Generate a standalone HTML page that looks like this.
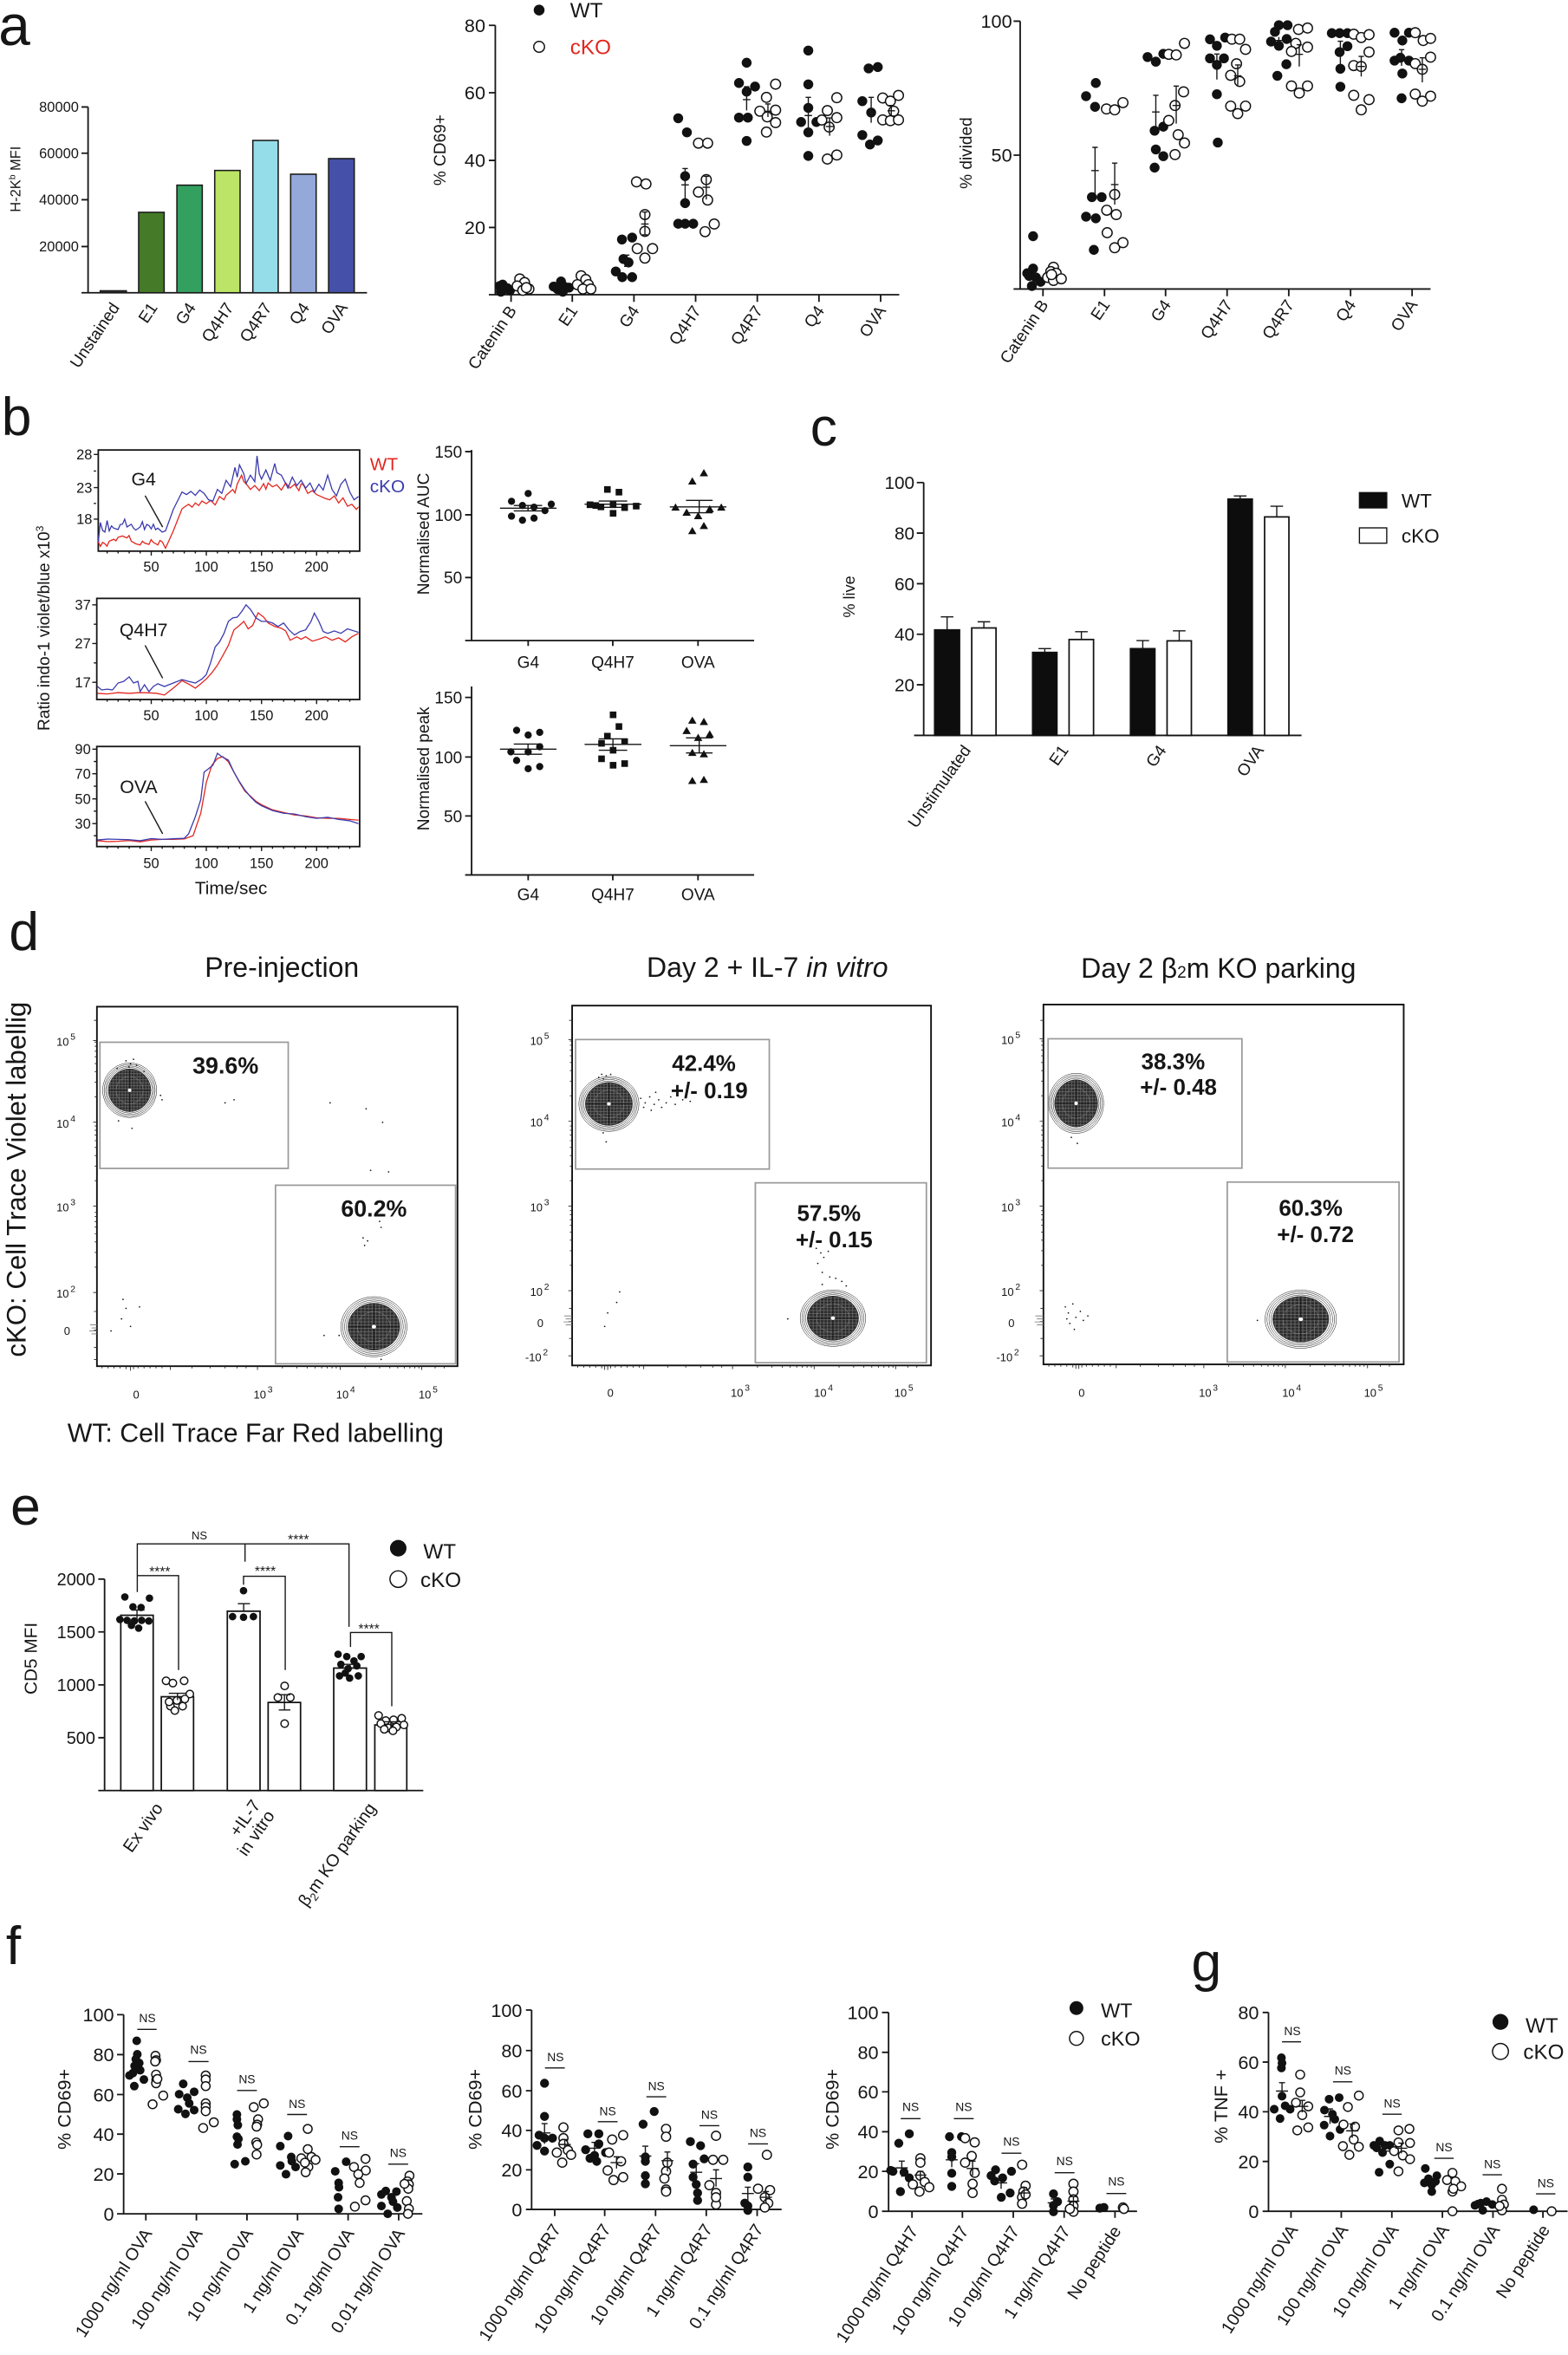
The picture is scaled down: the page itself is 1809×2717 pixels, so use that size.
<!DOCTYPE html>
<html><head><meta charset="utf-8"><style>
html,body{margin:0;padding:0;background:#fff}
svg{display:block}
text{font-family:"Liberation Sans",Arial,sans-serif;fill:#161616}
.ax{stroke:#161616;stroke-width:1.05;fill:none}
.th{stroke:#161616;stroke-width:0.8;fill:none}
.f{fill:#111}
.o{fill:#fff;stroke:#111;stroke-width:0.85}
.g{fill:none;stroke:#9a9a9a;stroke-width:1}
.red{stroke:#e3261f;fill:none;stroke-width:0.75}
.blu{stroke:#3a3aae;fill:none;stroke-width:0.75}
</style></head><body>
<svg width="1809" height="2717" viewBox="0 0 1045 1569.5" preserveAspectRatio="none" xmlns="http://www.w3.org/2000/svg">
<defs>
<pattern id="mesh" width="2.2" height="2.2" patternUnits="userSpaceOnUse">
<rect width="2.2" height="2.2" fill="#2c2c2c"/><path d="M0,1.1H2.2M1.1,0V2.2" stroke="#6e6e6e" stroke-width="0.4"/>
</pattern>
<g id="blob">
<circle r="20" fill="#fff" stroke="#111" stroke-width="0.5" vector-effect="non-scaling-stroke"/>
<circle r="18.9" fill="none" stroke="#111" stroke-width="0.5" vector-effect="non-scaling-stroke"/>
<circle r="17.8" fill="none" stroke="#111" stroke-width="0.5" vector-effect="non-scaling-stroke"/>
<circle r="16.7" fill="none" stroke="#111" stroke-width="0.5" vector-effect="non-scaling-stroke"/>
<circle r="15.7" fill="url(#mesh)" stroke="#222" stroke-width="0.5" vector-effect="non-scaling-stroke"/>
<circle r="10" fill="none" stroke="#999" stroke-width="0.4" vector-effect="non-scaling-stroke"/>
<path d="M-15,0H15M0,-15V15" stroke="#1a1a1a" stroke-width="0.9" vector-effect="non-scaling-stroke"/>
<circle r="1.3" fill="#fff"/>
</g>
<path id="ydec" d="M-2.5,0h2.5M-1.5,-16.9h1.5M-1.5,-26.7h1.5M-1.5,-33.7h1.5M-1.5,-39.1h1.5M-1.5,-43.6h1.5M-1.5,-47.3h1.5M-1.5,-50.6h1.5M-1.5,-53.4h1.5" stroke="#222" stroke-width="0.5" fill="none"/>
<path id="xdec" d="M0,0v2.5M16.6,0v1.5M26.3,0v1.5M33.1,0v1.5M38.4,0v1.5M42.8,0v1.5M46.5,0v1.5M49.7,0v1.5M52.5,0v1.5" stroke="#222" stroke-width="0.5" fill="none"/>
</defs>

<!-- ================= PANEL a ================= -->
<text x="-1" y="30" font-size="38">a</text>
<path class="ax" d="M58.7,71.3V195.1M54.3,195.1H244.6M54.3,71.3H58.7M54.3,102.1H58.7M54.3,133.1H58.7M54.3,164.3H58.7"/>
<g font-size="9.5" text-anchor="end">
<text x="52.5" y="74.6">80000</text><text x="52.5" y="105.4">60000</text><text x="52.5" y="136.4">40000</text><text x="52.5" y="167.6">20000</text>
</g>
<text transform="translate(13.5,119.4) rotate(-90)" font-size="9.5" text-anchor="middle">H-2K<tspan font-size="6" dy="-3.5">b</tspan><tspan dy="3.5"> MFI</tspan></text>
<g stroke="#1a1a1a" stroke-width="0.9">
<rect x="66.8" y="193.8" width="17.4" height="1.3" fill="#333"/>
<rect x="92.4" y="141.5" width="17" height="53.6" fill="#447a28"/>
<rect x="117.9" y="123.4" width="16.9" height="71.7" fill="#33a060"/>
<rect x="143.1" y="113.6" width="16.9" height="81.5" fill="#bce466"/>
<rect x="168.5" y="93.6" width="16.9" height="101.5" fill="#95dde8"/>
<rect x="193.7" y="116.1" width="17" height="79" fill="#94a8da"/>
<rect x="219" y="105.7" width="17.1" height="89.4" fill="#4550a8"/>
</g>
<g font-size="11" text-anchor="end">
<text transform="translate(80,205) rotate(-56)">Unstained</text>
<text transform="translate(105.4,205) rotate(-56)">E1</text>
<text transform="translate(130.9,205) rotate(-56)">G4</text>
<text transform="translate(156.1,205) rotate(-56)">Q4H7</text>
<text transform="translate(181.5,205) rotate(-56)">Q4R7</text>
<text transform="translate(206.7,205) rotate(-56)">Q4</text>
<text transform="translate(232.1,205) rotate(-56)">OVA</text>
</g>

<!-- CD69 scatter -->
<path class="ax" d="M330.1,16.9V196.4M325.8,196.4H599.3M325.8,16.9H330.1M325.8,61.8H330.1M325.8,106.9H330.1M325.8,151.6H330.1M340.6,196.4v4.8M381.4,196.4v4.8M422.5,196.4v4.8M463.6,196.4v4.8M504.7,196.4v4.8M545.8,196.4v4.8M586.9,196.4v4.8"/>
<g font-size="12.5" text-anchor="end">
<text x="323.5" y="21.3">80</text><text x="323.5" y="66.2">60</text><text x="323.5" y="111.3">40</text><text x="323.5" y="156">20</text>
</g>
<text transform="translate(297,100) rotate(-90)" font-size="11" text-anchor="middle">% CD69+</text>
<circle class="f" cx="359.3" cy="6.7" r="3.6"/><text x="380" y="11.6" font-size="14">WT</text>
<circle class="o" cx="359.3" cy="31.2" r="3.6"/><text x="380" y="36" font-size="14" style="fill:#e3261f">cKO</text>
<g font-size="11" text-anchor="end">
<text transform="translate(344.6,207) rotate(-56)">Catenin B</text>
<text transform="translate(385.4,207) rotate(-56)">E1</text>
<text transform="translate(426.5,207) rotate(-56)">G4</text>
<text transform="translate(467.6,207) rotate(-56)">Q4H7</text>
<text transform="translate(508.7,207) rotate(-56)">Q4R7</text>
<text transform="translate(549.8,207) rotate(-56)">Q4</text>
<text transform="translate(590.9,207) rotate(-56)">OVA</text>
</g>
<g class="f">
<circle cx="333" cy="190.6" r="3.3"/><circle cx="335" cy="189.7" r="3.3"/><circle cx="338.2" cy="192.1" r="3.3"/><circle cx="333.8" cy="194.4" r="3.3"/><circle cx="339.9" cy="193.5" r="3.3"/><circle cx="336.2" cy="192.6" r="3.3"/>
<circle cx="369" cy="191" r="3.3"/><circle cx="373.9" cy="187.6" r="3.3"/><circle cx="376.3" cy="191.2" r="3.3"/><circle cx="371.5" cy="192.6" r="3.3"/><circle cx="375.1" cy="194.4" r="3.3"/><circle cx="379.2" cy="191.7" r="3.3"/>
<circle cx="414.5" cy="159.6" r="3.3"/><circle cx="421.3" cy="158.3" r="3.3"/><circle cx="415.5" cy="172.6" r="3.3"/><circle cx="418.9" cy="174.9" r="3.3"/><circle cx="410.4" cy="180.9" r="3.3"/><circle cx="414.7" cy="184.7" r="3.3"/><circle cx="421.3" cy="184.7" r="3.3"/>
<circle cx="452" cy="78.8" r="3.3"/><circle cx="457.8" cy="88.2" r="3.3"/><circle cx="456.6" cy="117.4" r="3.3"/><circle cx="456.6" cy="135.4" r="3.3"/><circle cx="452" cy="149.1" r="3.3"/><circle cx="456.6" cy="149.1" r="3.3"/><circle cx="462" cy="149.1" r="3.3"/>
<circle cx="497.6" cy="41.8" r="3.3"/><circle cx="492.5" cy="55.3" r="3.3"/><circle cx="503.2" cy="57.7" r="3.3"/><circle cx="497.6" cy="61.1" r="3.3"/><circle cx="492.5" cy="78.4" r="3.3"/><circle cx="498.4" cy="78.4" r="3.3"/><circle cx="497.6" cy="93.9" r="3.3"/>
<circle cx="538.7" cy="33.7" r="3.3"/><circle cx="538.7" cy="56.2" r="3.3"/><circle cx="538.7" cy="71.9" r="3.3"/><circle cx="533.9" cy="81.3" r="3.3"/><circle cx="544.1" cy="81.3" r="3.3"/><circle cx="538.7" cy="88.2" r="3.3"/><circle cx="538.7" cy="103.9" r="3.3"/>
<circle cx="578.9" cy="45.6" r="3.3"/><circle cx="585" cy="44.7" r="3.3"/><circle cx="574.7" cy="67.4" r="3.3"/><circle cx="580.6" cy="75" r="3.3"/><circle cx="574.7" cy="90" r="3.3"/><circle cx="585" cy="93.6" r="3.3"/><circle cx="579.8" cy="96.3" r="3.3"/>
</g>
<g class="o">
<circle cx="346.4" cy="185.9" r="3.3"/><circle cx="349.6" cy="188.3" r="3.3"/><circle cx="352.5" cy="192.6" r="3.3"/><circle cx="344.7" cy="190.6" r="3.3"/><circle cx="348.4" cy="193.5" r="3.3"/><circle cx="350.8" cy="191.7" r="3.3"/>
<circle cx="387.3" cy="183.8" r="3.3"/><circle cx="390.4" cy="186.3" r="3.3"/><circle cx="392.1" cy="189.7" r="3.3"/><circle cx="384.8" cy="189.7" r="3.3"/><circle cx="388.5" cy="192.6" r="3.3"/><circle cx="393.8" cy="192.6" r="3.3"/>
<circle cx="424.2" cy="121.2" r="3.3"/><circle cx="430.5" cy="122.6" r="3.3"/><circle cx="429.8" cy="143" r="3.3"/><circle cx="429.8" cy="154.2" r="3.3"/><circle cx="424.7" cy="165.7" r="3.3"/><circle cx="434.9" cy="165.7" r="3.3"/><circle cx="429.8" cy="172" r="3.3"/>
<circle cx="465.5" cy="95.4" r="3.3"/><circle cx="471.6" cy="95.4" r="3.3"/><circle cx="470.7" cy="119.7" r="3.3"/><circle cx="465.5" cy="128" r="3.3"/><circle cx="471.6" cy="133.3" r="3.3"/><circle cx="469.9" cy="154.4" r="3.3"/><circle cx="476" cy="149.3" r="3.3"/>
<circle cx="516.9" cy="56.1" r="3.3"/><circle cx="510.8" cy="64.9" r="3.3"/><circle cx="516.9" cy="73.4" r="3.3"/><circle cx="506.4" cy="74.1" r="3.3"/><circle cx="511.3" cy="77.9" r="3.3"/><circle cx="516.9" cy="81.7" r="3.3"/><circle cx="510.8" cy="88" r="3.3"/>
<circle cx="557.7" cy="65.1" r="3.3"/><circle cx="551.4" cy="73.7" r="3.3"/><circle cx="557.7" cy="78.4" r="3.3"/><circle cx="547.7" cy="80" r="3.3"/><circle cx="552.6" cy="84.7" r="3.3"/><circle cx="551.4" cy="106" r="3.3"/><circle cx="557.7" cy="103.3" r="3.3"/>
<circle cx="598.8" cy="63.6" r="3.3"/><circle cx="588.3" cy="65.3" r="3.3"/><circle cx="593.4" cy="67.4" r="3.3"/><circle cx="595.6" cy="74.1" r="3.3"/><circle cx="588.3" cy="79.9" r="3.3"/><circle cx="593.4" cy="80.4" r="3.3"/><circle cx="598.8" cy="79.9" r="3.3"/>
</g>
<path class="th" d="M417.7,170V177.5M415.9,170h3.6M415.9,177.5h3.6M415.2,173.7h5M429.8,141.3V156.5M428,141.3h3.6M428,156.5h3.6M427.3,149.3h5M456.6,112.3V132.9M454.8,112.3h3.6M454.1,123.2h5M470.7,117.5V132.9M468.9,117.5h3.6M468.2,124.8h5M497.6,57.8V73.6M495.8,57.8h3.6M495.1,66.4h5M511.8,69.3V78M510,69.3h3.6M509.3,74.1h5M538.7,64.9V87.6M536.9,64.9h3.6M536.2,77h5M552.9,78.6V90.5M551.1,78.6h3.6M550.4,84.3h5M580.6,64.9V81.8M578.8,64.9h3.6M578.1,75.7h5M594,70.3V76.6M592.2,70.3h3.6M591.5,73.8h5"/>

<!-- % divided scatter -->
<path class="ax" d="M679.9,14.1V192.6M675.5,192.6H953.4M675.5,14.1H679.9M675.5,103.4H679.9M695.1,192.6v4.8M736.1,192.6v4.8M776.8,192.6v4.8M817.8,192.6v4.8M858.9,192.6v4.8M900.1,192.6v4.8M941.1,192.6v4.8"/>
<g font-size="12.5" text-anchor="end"><text x="674.5" y="18.5">100</text><text x="674.5" y="107.8">50</text></g>
<text transform="translate(647.5,102) rotate(-90)" font-size="11" text-anchor="middle">% divided</text>
<g font-size="11" text-anchor="end">
<text transform="translate(699.1,203) rotate(-56)">Catenin B</text>
<text transform="translate(740.1,203) rotate(-56)">E1</text>
<text transform="translate(780.8,203) rotate(-56)">G4</text>
<text transform="translate(821.8,203) rotate(-56)">Q4H7</text>
<text transform="translate(862.9,203) rotate(-56)">Q4R7</text>
<text transform="translate(904.1,203) rotate(-56)">Q4</text>
<text transform="translate(945.1,203) rotate(-56)">OVA</text>
</g>
<g class="f">
<circle cx="688.5" cy="157.4" r="3.3"/><circle cx="688.5" cy="179" r="3.3"/><circle cx="685.9" cy="183.9" r="3.3"/><circle cx="690.4" cy="184.9" r="3.3"/><circle cx="687.7" cy="190.6" r="3.3"/><circle cx="693.5" cy="187.8" r="3.3"/><circle cx="684.6" cy="182.1" r="3.3"/>
<circle cx="730.3" cy="55.3" r="3.3"/><circle cx="723.8" cy="64.1" r="3.3"/><circle cx="729.8" cy="71.2" r="3.3"/><circle cx="727.7" cy="131.4" r="3.3"/><circle cx="734.2" cy="131.4" r="3.3"/><circle cx="723.8" cy="144.4" r="3.3"/><circle cx="730.3" cy="145.5" r="3.3"/><circle cx="729" cy="166.5" r="3.3"/>
<circle cx="764.8" cy="38" r="3.3"/><circle cx="770.3" cy="41.1" r="3.3"/><circle cx="775.3" cy="35.9" r="3.3"/><circle cx="769.5" cy="87.1" r="3.3"/><circle cx="775.3" cy="84.4" r="3.3"/><circle cx="770.3" cy="99.6" r="3.3"/><circle cx="775.3" cy="104.1" r="3.3"/><circle cx="769.5" cy="111.7" r="3.3"/>
<circle cx="806.4" cy="26.2" r="3.3"/><circle cx="811" cy="30.5" r="3.3"/><circle cx="816.5" cy="25" r="3.3"/><circle cx="806.4" cy="38.9" r="3.3"/><circle cx="815.7" cy="38.9" r="3.3"/><circle cx="811" cy="43.2" r="3.3"/><circle cx="811" cy="62.8" r="3.3"/><circle cx="811.6" cy="95" r="3.3"/>
<circle cx="852.3" cy="16.8" r="3.3"/><circle cx="858.1" cy="16.8" r="3.3"/><circle cx="849.7" cy="21.2" r="3.3"/><circle cx="847.1" cy="27.7" r="3.3"/><circle cx="852.3" cy="30.5" r="3.3"/><circle cx="857.5" cy="26" r="3.3"/><circle cx="857.3" cy="42.8" r="3.3"/><circle cx="851.3" cy="50.5" r="3.3"/>
<circle cx="887.6" cy="22.1" r="3.3"/><circle cx="892.8" cy="22.1" r="3.3"/><circle cx="898" cy="22.1" r="3.3"/><circle cx="892.8" cy="34.7" r="3.3"/><circle cx="898" cy="30.8" r="3.3"/><circle cx="893.3" cy="45.8" r="3.3"/><circle cx="893.3" cy="57.8" r="3.3"/>
<circle cx="929.4" cy="21.8" r="3.3"/><circle cx="939" cy="21.8" r="3.3"/><circle cx="934.6" cy="27" r="3.3"/><circle cx="929.4" cy="40.4" r="3.3"/><circle cx="933.3" cy="38.5" r="3.3"/><circle cx="939" cy="40.4" r="3.3"/><circle cx="934.6" cy="49" r="3.3"/><circle cx="934.1" cy="65.5" r="3.3"/>
</g>
<g class="o">
<circle cx="702.1" cy="178.1" r="3.3"/><circle cx="700.3" cy="181" r="3.3"/><circle cx="703.9" cy="182.1" r="3.3"/><circle cx="698.2" cy="184.9" r="3.3"/><circle cx="702.1" cy="186.9" r="3.3"/><circle cx="707.3" cy="185.8" r="3.3"/><circle cx="700.8" cy="183" r="3.3"/>
<circle cx="737.4" cy="72.6" r="3.3"/><circle cx="742.9" cy="73.2" r="3.3"/><circle cx="748.4" cy="68.4" r="3.3"/><circle cx="742.9" cy="129.6" r="3.3"/><circle cx="737.6" cy="140.1" r="3.3"/><circle cx="743.9" cy="143" r="3.3"/><circle cx="737.9" cy="155.1" r="3.3"/><circle cx="742.9" cy="165.1" r="3.3"/><circle cx="748.4" cy="161.7" r="3.3"/>
<circle cx="778.9" cy="36.2" r="3.3"/><circle cx="783.9" cy="36.6" r="3.3"/><circle cx="789.4" cy="28.9" r="3.3"/><circle cx="788.8" cy="61.2" r="3.3"/><circle cx="783.1" cy="70.3" r="3.3"/><circle cx="778.9" cy="80.3" r="3.3"/><circle cx="785.2" cy="89.8" r="3.3"/><circle cx="789.4" cy="95.3" r="3.3"/><circle cx="783.1" cy="103" r="3.3"/>
<circle cx="821" cy="26.1" r="3.3"/><circle cx="826.2" cy="26.1" r="3.3"/><circle cx="830.1" cy="32.9" r="3.3"/><circle cx="824.1" cy="42.5" r="3.3"/><circle cx="820.2" cy="50.2" r="3.3"/><circle cx="826.2" cy="54.3" r="3.3"/><circle cx="820.2" cy="70.7" r="3.3"/><circle cx="830.1" cy="70.7" r="3.3"/><circle cx="824.9" cy="75.7" r="3.3"/>
<circle cx="865.4" cy="19.6" r="3.3"/><circle cx="871.4" cy="18.7" r="3.3"/><circle cx="863.6" cy="28.9" r="3.3"/><circle cx="860.7" cy="34.3" r="3.3"/><circle cx="871.4" cy="31.4" r="3.3"/><circle cx="860.7" cy="57.3" r="3.3"/><circle cx="871.4" cy="57.3" r="3.3"/><circle cx="865.9" cy="62" r="3.3"/>
<circle cx="902.2" cy="22.8" r="3.3"/><circle cx="907.2" cy="25" r="3.3"/><circle cx="912.4" cy="23.1" r="3.3"/><circle cx="912.4" cy="34.7" r="3.3"/><circle cx="902.2" cy="43.7" r="3.3"/><circle cx="907.2" cy="44.3" r="3.3"/><circle cx="902.2" cy="63.5" r="3.3"/><circle cx="912.4" cy="66.4" r="3.3"/><circle cx="907.2" cy="73.2" r="3.3"/>
<circle cx="943.2" cy="21.8" r="3.3"/><circle cx="948.5" cy="27" r="3.3"/><circle cx="953.4" cy="25.6" r="3.3"/><circle cx="943.2" cy="42.4" r="3.3"/><circle cx="953.4" cy="38.1" r="3.3"/><circle cx="947.9" cy="46.2" r="3.3"/><circle cx="943.2" cy="62.7" r="3.3"/><circle cx="953.4" cy="64.1" r="3.3"/><circle cx="947.9" cy="67.4" r="3.3"/>
</g>
<path class="th" d="M729.8,98.2V129.2M728,98.2h3.6M727.3,113.7h5M742.9,108.7V136.4M741.1,108.7h3.6M740.4,123h5M770.3,63.5V85.7M768.5,63.5h3.6M767.8,74.6h5M783.9,57.4V82.4M782.1,57.4h3.6M781.4,70.3h5M811,36V53M809.2,36h3.6M808.5,42.7h5M824.9,43.3V56.8M823.1,43.3h3.6M822.4,50.5h5M852.3,24.6V29.3M849.8,27h5M865.9,29.8V44.3M864.1,29.8h3.6M863.4,36.2h5M893.3,27.5V43.7M891.5,27.5h3.6M890.8,35.6h5M907.2,37.6V51M905.4,37.6h3.6M904.7,44.3h5M934.1,33.1V43.9M932.3,33.1h3.6M931.6,38.5h5M947.9,38.5V54.9M946.1,38.5h3.6M945.4,46.2h5"/>

<!-- ================= PANEL b ================= -->
<text x="1" y="290" font-size="36">b</text>
<text transform="translate(33,418.7) rotate(-90)" font-size="11" text-anchor="middle">Ratio indo-1 violet/blue x10<tspan font-size="7" dy="-4">3</tspan></text>
<rect x="65.5" y="299.9" width="174.2" height="67.4" class="ax"/>
<path class="th" d="M62.5,302.9h3M62.5,325h3M62.5,346h3M62.5,313.9h1.5M62.5,335.5h1.5M100.8,367.3v3M137.5,367.3v3M174.3,367.3v3M211,367.3v3M71.4,367.3v1.5M78.7,367.3v1.5M86.1,367.3v1.5M93.4,367.3v1.5M108.1,367.3v1.5M115.5,367.3v1.5M122.8,367.3v1.5M130.2,367.3v1.5M144.9,367.3v1.5M152.2,367.3v1.5M159.6,367.3v1.5M166.9,367.3v1.5M181.6,367.3v1.5M189,367.3v1.5M196.3,367.3v1.5M203.7,367.3v1.5M218.4,367.3v1.5M225.7,367.3v1.5M233.1,367.3v1.5"/>
<g font-size="9.5" text-anchor="end"><text x="61.5" y="306.2">28</text><text x="61.5" y="328.3">23</text><text x="61.5" y="349.3">18</text></g>
<g font-size="9.5" text-anchor="middle"><text x="100.8" y="381">50</text><text x="137.5" y="381">100</text><text x="174.3" y="381">150</text><text x="211" y="381">200</text></g>
<polyline class="red" points="65.5,361.1 66.9,364.1 68.4,361.5 69.9,362.4 71.3,364 72.8,360.7 75.8,359.4 77.3,360.4 78.7,358.1 81.6,357.2 84.6,358.5 86,356.9 87.5,360.7 90.5,362.4 93.4,363.2 94.9,360.7 96.3,361.9 99.3,362.8 100.7,359.6 102.2,361.5 105.2,363.2 106.6,360.2 108.1,361.1 110.3,365.4 115.5,353.8 121.3,339.1 123.5,337.5 125.7,336.1 128,338 130.2,335.2 132.4,336.9 134.6,333.9 137.5,335.7 140.4,333.5 143.4,336.5 146.3,330.9 149.3,333.1 150.7,330 152.2,328.8 155.1,326.2 156.6,328.5 158.1,322.7 161,316.7 162.5,321 164,322.3 166.9,326.2 169.8,323.6 172.8,327 175.7,322.3 177.2,326 178.7,321.9 181.6,324.4 184.5,323.1 187.5,326.6 190.4,321.9 193.4,325.3 196.3,322.7 199.2,327 200.7,322.5 202.2,323.1 205.1,328.8 208.1,327 211,329.6 213.9,330.9 216.9,332.2 219.8,333.1 222.8,330.5 225.7,335.2 228.6,331.8 231.6,337.4 234.5,336.1 237.5,339.5 238.9,337.8"/>
<polyline class="blu" points="65.5,361.1 66.9,348.2 68.4,353.5 69.9,354.6 71.4,346.9 72.8,353.8 74.3,350.5 75.8,352 78.7,352.9 80.2,349.5 81.6,349.4 83.1,346 84.6,351.2 87.5,349.4 89,352 90.5,353.3 93.4,351.2 94.9,347.7 96.3,352.9 97.8,349.5 99.3,350.3 100.8,352.5 102.2,349.4 103.7,353 105.2,352 108.1,354.6 110.3,353.8 115.5,339.5 121.3,327.9 124.3,329.6 127.2,327.5 130.2,330.1 133.1,326.6 136,328.8 139,333.1 141.9,333.9 144.9,326.2 147.8,328.8 150.7,320.1 153.7,324.4 156.6,311.5 158.1,318 159.6,309.8 162.5,315.8 164,322.3 166.9,316.7 169.8,321 171.3,303.8 172.8,315.8 174.3,319.3 177.2,313.2 180.1,320.1 183.1,308.9 184.5,315 187.5,316.7 190.4,322.3 191.9,325.3 194.8,318 197.8,323.6 200.7,320.1 203.7,325.3 206.6,321.9 209.5,327.9 212.5,322.7 215.4,326.6 218.4,316.7 221.3,326.2 224.2,330.5 227.2,322.7 230.1,319.3 233.1,327.9 236,333.1 238.9,330.9"/>
<text x="95.7" y="323.6" font-size="12.3" text-anchor="middle">G4</text>
<path class="th" d="M96.7,330.3L108.4,351.3"/>
<text x="246.5" y="313.3" font-size="12" style="fill:#e3261f">WT</text>
<text x="246.5" y="328.2" font-size="12" style="fill:#3a3aae">cKO</text>
<rect x="64.5" y="398.8" width="175.2" height="67.4" class="ax"/>
<path class="th" d="M61.5,403.1h3M61.5,428.9h3M61.5,454.7h3M62.5,416h2M62.5,441.8h2M100.8,466.2v3M137.5,466.2v3M174.3,466.2v3M211,466.2v3M71.4,466.2v1.5M78.7,466.2v1.5M86.1,466.2v1.5M93.4,466.2v1.5M108.1,466.2v1.5M115.5,466.2v1.5M122.8,466.2v1.5M130.2,466.2v1.5M144.9,466.2v1.5M152.2,466.2v1.5M159.6,466.2v1.5M166.9,466.2v1.5M181.6,466.2v1.5M189,466.2v1.5M196.3,466.2v1.5M203.7,466.2v1.5M218.4,466.2v1.5M225.7,466.2v1.5M233.1,466.2v1.5"/>
<g font-size="9.5" text-anchor="end"><text x="60.5" y="406.4">37</text><text x="60.5" y="432.2">27</text><text x="60.5" y="458">17</text></g>
<g font-size="9.5" text-anchor="middle"><text x="100.8" y="480">50</text><text x="137.5" y="480">100</text><text x="174.3" y="480">150</text><text x="211" y="480">200</text></g>
<polyline class="red" points="65,462.1 71.4,462.5 78.7,461.6 86.1,462.1 93.4,461.6 100.8,461.8 104.4,462.1 109.6,463.2 115.5,458.6 121.3,453.6 126.5,456.3 130.2,458.6 133.8,455.7 137.5,452.5 141.2,448.4 144.9,443.3 148.5,436.9 152.2,430.1 155.9,419.8 159.6,416.8 162.5,414.1 165.4,419.1 168.4,416.8 172,408.4 175.7,411.3 178.7,415.2 183.1,417.5 187.5,418.7 190.4,420.5 193.4,426.7 197.8,424.4 200.7,426 203.7,424.4 208.1,427.3 212.5,426 216.9,424.4 221.3,426.7 225.7,425.1 230.1,427.8 234.5,424.4 238.9,422.1"/>
<polyline class="blu" points="65,457.5 67.7,459.8 71.4,459.3 75,459.8 78.7,455.2 82.4,454.1 86.1,451.1 89,455.2 91.9,454.1 93.4,460.9 96.3,456.3 99.3,460.9 102.2,457.5 105.2,455.7 109.6,457.5 115.5,455.2 121.3,452.9 125.7,454.1 130.2,455.2 134.6,452.5 137.5,449.5 140.4,441.5 143.4,431.2 146.3,427.8 149.3,422.1 152.2,414.1 155.1,411.8 158.1,411.3 161,407.7 164,403.1 166.9,406.1 170.6,411.8 174.3,414.1 177.9,414.1 181.6,415.2 185.3,417.5 189,415.2 192.6,419.8 196.3,423.2 200,420.9 203.7,419.8 207.3,414.1 209.5,408.6 212.5,414.1 215.4,420.9 218.4,422.1 222.8,420.5 227.2,422.1 231.6,419.1 236,420.5 238.9,421.4"/>
<text x="95.7" y="424" font-size="12.3" text-anchor="middle">Q4H7</text>
<path class="th" d="M96.7,430.1L108.4,452"/>
<rect x="64.5" y="497.5" width="175.2" height="66.7" class="ax"/>
<path class="th" d="M61.5,499.3h3M61.5,515.7h3M61.5,532.4h3M61.5,548.9h3M62.5,507.5h2M62.5,524h2M62.5,540.6h2M62.5,557h2M100.8,564.2v3M137.5,564.2v3M174.3,564.2v3M211,564.2v3M71.4,564.2v1.5M78.7,564.2v1.5M86.1,564.2v1.5M93.4,564.2v1.5M108.1,564.2v1.5M115.5,564.2v1.5M122.8,564.2v1.5M130.2,564.2v1.5M144.9,564.2v1.5M152.2,564.2v1.5M159.6,564.2v1.5M166.9,564.2v1.5M181.6,564.2v1.5M189,564.2v1.5M196.3,564.2v1.5M203.7,564.2v1.5M218.4,564.2v1.5M225.7,564.2v1.5M233.1,564.2v1.5"/>
<g font-size="9.5" text-anchor="end"><text x="60.5" y="502.6">90</text><text x="60.5" y="519">70</text><text x="60.5" y="535.7">50</text><text x="60.5" y="552.2">30</text></g>
<g font-size="9.5" text-anchor="middle"><text x="100.8" y="578.4">50</text><text x="137.5" y="578.4">100</text><text x="174.3" y="578.4">150</text><text x="211" y="578.4">200</text></g>
<polyline class="red" points="65,560.3 72,560.9 78.7,560.7 86,560.2 93.4,561 100.8,559.8 108.1,559.4 115.5,559.4 122.8,559.1 128.7,556.9 133.8,542 137.5,521.4 141.2,510 144.9,505.5 148.5,504.3 152.2,507.7 155.9,514.6 159.6,521.4 163.2,527.2 166.9,530.6 170.6,534 174.3,536.3 181.6,539.7 189,541.5 196.3,543.1 203.7,543.8 211,545 218.4,545.4 225.7,545.4 233.1,546.1 238.9,546.6"/>
<polyline class="blu" points="65,559.8 72,559.2 78.7,559.4 86,559.6 93.4,560.3 100.8,558.9 108.1,559.4 115.5,559 122.8,558.7 125.7,555.7 130.2,544.3 133.8,532.9 136,514.6 139,512.3 141.9,510 144.9,502 147.8,504.3 152.2,506.6 155.9,514.6 159.6,521 163.2,526.5 166.9,531 170.6,534.7 174.3,537 181.6,540.2 189,542 196.3,542.5 203.7,544.3 211,545.4 218.4,544.7 225.7,546.1 233.1,547 238.9,548.9"/>
<text x="92.4" y="528.7" font-size="12.3" text-anchor="middle">OVA</text>
<path class="th" d="M96.7,534L108.4,555.7"/>
<text x="154" y="596" font-size="12" text-anchor="middle">Time/sec</text>

<path class="ax" d="M314.3,299.9V426.9M310,426.9H502.6M310,301H314.3M310,343.1H314.3M310,384.9H314.3M352,426.9v3.6M408.4,426.9v3.6M465.2,426.9v3.6"/>
<g font-size="11" text-anchor="end"><text x="308" y="305">150</text><text x="308" y="347.1">100</text><text x="308" y="388.9">50</text></g>
<g font-size="11" text-anchor="middle"><text x="352" y="445">G4</text><text x="408.4" y="445">Q4H7</text><text x="465.2" y="445">OVA</text></g>
<text transform="translate(286,355.8) rotate(-90)" font-size="11" text-anchor="middle">Normalised AUC</text>
<g class="f">
<circle cx="340.9" cy="334.1" r="2.4"/><circle cx="352" cy="328.9" r="2.4"/><circle cx="348.2" cy="336.9" r="2.4"/><circle cx="355.9" cy="338" r="2.4"/><circle cx="367.4" cy="336" r="2.4"/><circle cx="363.2" cy="340.3" r="2.4"/><circle cx="340.9" cy="344" r="2.4"/><circle cx="348.2" cy="346.7" r="2.4"/><circle cx="355.9" cy="345.3" r="2.4"/>
<rect x="402.6" y="324" width="4.4" height="4.4"/><rect x="410.3" y="325.8" width="4.4" height="4.4"/><rect x="391" y="334.2" width="4.4" height="4.4"/><rect x="398.3" y="335.6" width="4.4" height="4.4"/><rect x="406.4" y="334.2" width="4.4" height="4.4"/><rect x="414.1" y="336.1" width="4.4" height="4.4"/><rect x="421.8" y="335.1" width="4.4" height="4.4"/><rect x="406.4" y="339.9" width="4.4" height="4.4"/><rect x="394.9" y="334.7" width="4.4" height="4.4"/>
<polygon points="469.1,312.6 466.3,317.4 471.9,317.4"/><polygon points="461.4,318.1 458.6,322.9 464.2,322.9"/><polygon points="450.2,335.5 447.4,340.3 453,340.3"/><polygon points="457.6,338.9 454.8,343.7 460.4,343.7"/><polygon points="465.3,341.2 462.5,346 468.1,346"/><polygon points="473,336.6 470.2,341.4 475.8,341.4"/><polygon points="480.7,335.5 477.9,340.3 483.5,340.3"/><polygon points="461.4,351.2 458.6,356 464.2,356"/><polygon points="469.1,347.8 466.3,352.6 471.9,352.6"/>
</g>
<path class="th" d="M333.2,338.7H370.9M342.4,336.9H361.3M342.4,340.5H361.3M351.9,336.9V340.5M389.6,336H427.5M399,333.9H418M399,338.1H418M408.5,333.9V338.1M446.4,337.8H484.1M457.2,333.5H474.9M457.2,341.7H474.9M466,333.5V341.7"/>
<path class="ax" d="M314.3,457.5V583.1M310,583.1H502.6M310,464.8H314.3M310,504.5H314.3M310,543.8H314.3M352,583.1v3.6M408.4,583.1v3.6M465.2,583.1v3.6"/>
<g font-size="11" text-anchor="end"><text x="308" y="468.8">150</text><text x="308" y="508.5">100</text><text x="308" y="547.8">50</text></g>
<g font-size="11" text-anchor="middle"><text x="352" y="600">G4</text><text x="408.4" y="600">Q4H7</text><text x="465.2" y="600">OVA</text></g>
<text transform="translate(286,512.3) rotate(-90)" font-size="11" text-anchor="middle">Normalised peak</text>
<g class="f">
<circle cx="344.3" cy="486.7" r="2.4"/><circle cx="352" cy="489.9" r="2.4"/><circle cx="359.7" cy="488.1" r="2.4"/><circle cx="340.5" cy="501.1" r="2.4"/><circle cx="352" cy="501.1" r="2.4"/><circle cx="359.7" cy="497.7" r="2.4"/><circle cx="344.3" cy="506.8" r="2.4"/><circle cx="352" cy="512.3" r="2.4"/><circle cx="359.7" cy="510.9" r="2.4"/>
<rect x="406.4" y="474.2" width="4.4" height="4.4"/><rect x="410.3" y="482" width="4.4" height="4.4"/><rect x="402.6" y="488.4" width="4.4" height="4.4"/><rect x="398.7" y="493.2" width="4.4" height="4.4"/><rect x="414.1" y="492.1" width="4.4" height="4.4"/><rect x="406.4" y="497.8" width="4.4" height="4.4"/><rect x="398.7" y="503.5" width="4.4" height="4.4"/><rect x="406.4" y="507.8" width="4.4" height="4.4"/><rect x="414.1" y="506.7" width="4.4" height="4.4"/>
<polygon points="461.4,477.5 458.6,482.3 464.2,482.3"/><polygon points="469.1,478.4 466.3,483.2 471.9,483.2"/><polygon points="457.6,484.4 454.8,489.2 460.4,489.2"/><polygon points="465.3,489 462.5,493.8 468.1,493.8"/><polygon points="473,486.7 470.2,491.5 475.8,491.5"/><polygon points="461.4,499 458.6,503.8 464.2,503.8"/><polygon points="469.1,499.9 466.3,504.7 471.9,504.7"/><polygon points="461.4,517.7 458.6,522.5 464.2,522.5"/><polygon points="469.1,517 466.3,521.8 471.9,521.8"/>
</g>
<path class="th" d="M333.2,499.3H370.9M342.4,495.9H361.3M342.4,502.7H361.3M351.9,495.9V502.7M389.6,496.1H427.5M399,492.4H418M399,500H418M408.5,492.4V500M446.4,497H484.1M457.2,491.8H474.9M457.2,501.8H474.9M466,491.8V501.8"/>

<!-- ================= PANEL c ================= -->
<text x="540" y="297" font-size="36">c</text>
<path class="ax" d="M615.6,321.6V490.1M609.2,490.1H867.4M611,321.6H615.6M611,355.3H615.6M611,389H615.6M611,422.7H615.6M611,456.4H615.6"/>
<g font-size="12" text-anchor="end"><text x="609.5" y="325.9">100</text><text x="609.5" y="359.6">80</text><text x="609.5" y="393.3">60</text><text x="609.5" y="427">40</text><text x="609.5" y="460.7">20</text></g>
<text transform="translate(569.5,397.7) rotate(-90)" font-size="10.5" text-anchor="middle">% live</text>
<g stroke="#111" stroke-width="1">
<rect x="622.9" y="419.8" width="16.6" height="70.3" fill="#0d0d0d"/>
<rect x="647.6" y="418.5" width="16.2" height="71.6" fill="#fff"/>
<rect x="688.2" y="434.8" width="16.2" height="55.3" fill="#0d0d0d"/>
<rect x="712.5" y="426.2" width="16.3" height="63.9" fill="#fff"/>
<rect x="753.4" y="432.3" width="16.3" height="57.8" fill="#0d0d0d"/>
<rect x="777.8" y="427.1" width="16.2" height="63" fill="#fff"/>
<rect x="818.4" y="332.6" width="16.2" height="157.5" fill="#0d0d0d"/>
<rect x="842.8" y="344.5" width="16.2" height="145.6" fill="#fff"/>
</g>
<path class="th" d="M631.2,419.8V411.1M627,411.1h8.4M655.7,418.5V414.4M651.5,414.4h8.4M696.3,434.8V432.3M692.1,432.3h8.4M720.7,426.2V421M716.5,421h8.4M761.6,432.3V426.9M757.4,426.9h8.4M785.9,427.1V420.4M781.7,420.4h8.4M826.5,332.6V330.5M822.3,330.5h8.4M850.9,344.5V337.4M846.7,337.4h8.4"/>
<rect x="906" y="328.3" width="18.2" height="10.2" fill="#0d0d0d" stroke="#111" stroke-width="0.8"/>
<text x="934" y="338.3" font-size="13">WT</text>
<rect x="906" y="351.8" width="18.2" height="10.2" fill="#fff" stroke="#111" stroke-width="0.8"/>
<text x="934" y="361.6" font-size="13">cKO</text>
<g font-size="11" text-anchor="end">
<text transform="translate(647.5,500) rotate(-55)">Unstimulated</text>
<text transform="translate(712.5,500) rotate(-55)">E1</text>
<text transform="translate(777.7,500) rotate(-55)">G4</text>
<text transform="translate(842.7,500) rotate(-55)">OVA</text>
</g>

<!-- ================= PANEL d ================= -->
<text x="6" y="633" font-size="36">d</text>
<g font-size="18.5" text-anchor="middle">
<text x="187.9" y="651">Pre-injection</text>
<text x="511.4" y="651">Day 2 + IL-7 <tspan font-style="italic">in vitro</tspan></text>
<text x="812.1" y="651.5">Day 2 β<tspan font-size="11">2</tspan>m KO parking</text>
</g>
<text transform="translate(17,786) rotate(-90)" font-size="18" text-anchor="middle">cKO: Cell Trace Violet labellig</text>
<text x="170.3" y="961" font-size="17.5" text-anchor="middle">WT: Cell Trace Far Red labelling</text>

<rect x="64.6" y="670.9" width="240.3" height="239.6" fill="none" stroke="#111" stroke-width="1.1"/>
<use href="#ydec" x="64.6" y="861.4"/><use href="#ydec" x="64.6" y="803.8"/><use href="#ydec" x="64.6" y="747.9"/>
<path d="M62.1,693.5h2.5M62.6,680h2M62.6,874h2M62.6,886.5h2.5M62.6,898h2M62.6,906h2" stroke="#222" stroke-width="0.5"/>
<use href="#xdec" x="171.6" y="910.5"/><use href="#xdec" x="226.7" y="910.5"/>
<path d="M281.1,910.5v2.5M113.5,910.5v2.5M68,910.5v1.5M72,910.5v1.5M76,910.5v1.5M80,910.5v1.5M84,910.5v2M87,910.5v3M89,910.5v2M92,910.5v1.5M96,910.5v1.5M100,910.5v1.5M104,910.5v1.5M108,910.5v1.5M128,910.5v1.5M140,910.5v1.5M150,910.5v1.5M158,910.5v1.5M164,910.5v1.5M290,910.5v1.5M296,910.5v1.5" stroke="#222" stroke-width="0.5"/>
<path d="M60,883h4.6M61,885h3.6M59.5,887h5.1M61,889h3.6" stroke="#777" stroke-width="0.5"/>
<g font-size="7.5"><text x="37.6" y="697">10<tspan dx="1" dy="-4" font-size="6">5</tspan></text><text x="37.6" y="751.4">10<tspan dx="1" dy="-4" font-size="6">4</tspan></text><text x="37.6" y="807.3">10<tspan dx="1" dy="-4" font-size="6">3</tspan></text><text x="37.6" y="864.9">10<tspan dx="1" dy="-4" font-size="6">2</tspan></text><text x="42.6" y="889.5">0</text></g>
<g font-size="7.5"><text x="88.7" y="932">0</text><text x="169" y="932">10<tspan dx="1" dy="-4" font-size="6">3</tspan></text><text x="224" y="932">10<tspan dx="1" dy="-4" font-size="6">4</tspan></text><text x="279" y="932">10<tspan dx="1" dy="-4" font-size="6">5</tspan></text></g>
<rect x="66.6" y="694.6" width="125.5" height="84.1" class="g"/>
<rect x="183.6" y="789.9" width="120" height="119" class="g"/>
<use href="#blob" transform="translate(86.4,726.6) scale(0.9,0.91)"/>
<use href="#blob" transform="translate(249.2,884.2) scale(1.1,1)"/>
<g fill="#111">
<circle cx="84" cy="707" r="0.5"/><circle cx="87" cy="709" r="0.5"/><circle cx="89" cy="706" r="0.5"/><circle cx="86" cy="711" r="0.5"/><circle cx="91" cy="710" r="0.5"/><circle cx="78" cy="712" r="0.5"/><circle cx="96" cy="714" r="0.5"/><circle cx="107" cy="730" r="0.5"/><circle cx="108" cy="733" r="0.5"/><circle cx="79" cy="747" r="0.5"/><circle cx="88" cy="752" r="0.5"/><circle cx="150" cy="735" r="0.5"/><circle cx="156" cy="733" r="0.5"/><circle cx="220" cy="735" r="0.5"/><circle cx="244" cy="739" r="0.5"/><circle cx="255" cy="748" r="0.5"/><circle cx="247" cy="780" r="0.5"/><circle cx="259" cy="781" r="0.5"/><circle cx="242" cy="825" r="0.5"/><circle cx="245" cy="827" r="0.5"/><circle cx="243" cy="830" r="0.5"/><circle cx="253" cy="814" r="0.5"/><circle cx="254" cy="818" r="0.5"/><circle cx="74" cy="887" r="0.5"/><circle cx="81" cy="879" r="0.5"/><circle cx="84" cy="872" r="0.5"/><circle cx="82" cy="866" r="0.5"/><circle cx="87" cy="884" r="0.5"/><circle cx="93" cy="871" r="0.5"/><circle cx="216" cy="890" r="0.5"/><circle cx="226" cy="890" r="0.5"/><circle cx="254" cy="906" r="0.5"/>
</g>
<g font-size="15.5" font-weight="bold" text-anchor="middle"><text x="150.3" y="715.5">39.6%</text><text x="249.2" y="810.7">60.2%</text></g>

<rect x="381.3" y="670.2" width="239.2" height="239.8" fill="none" stroke="#111" stroke-width="1.1"/>
<use href="#ydec" x="381.3" y="860.2"/><use href="#ydec" x="381.3" y="803.8"/><use href="#ydec" x="381.3" y="747.2"/>
<path d="M378.8,692.8h2.5M379.3,680h2M379.3,872h2M378.8,880.8h2.5M379.3,892h2M378.8,903.6h2.5" stroke="#222" stroke-width="0.5"/>
<use href="#xdec" x="488.2" y="910"/><use href="#xdec" x="542.6" y="910"/>
<path d="M596.9,910v2.5M429,910v2.5M385,910v1.5M389,910v1.5M393,910v1.5M397,910v1.5M401,910v2M403,910v3M405,910v3M407,910v2M410,910v1.5M414,910v1.5M418,910v1.5M422,910v1.5M426,910v1.5M445,910v1.5M457,910v1.5M467,910v1.5M475,910v1.5M481,910v1.5M605,910v1.5M611,910v1.5" stroke="#222" stroke-width="0.5"/>
<path d="M376,877h5.3M377,879h4.3M375.5,881h5.8M377,883h4.3" stroke="#777" stroke-width="0.5"/>
<g font-size="7.5"><text x="353.3" y="696.3">10<tspan dx="1" dy="-4" font-size="6">5</tspan></text><text x="353.3" y="750.7">10<tspan dx="1" dy="-4" font-size="6">4</tspan></text><text x="353.3" y="807.3">10<tspan dx="1" dy="-4" font-size="6">3</tspan></text><text x="353.3" y="863.7">10<tspan dx="1" dy="-4" font-size="6">2</tspan></text><text x="358" y="884.3">0</text><text x="350" y="907.1">-10<tspan dx="1" dy="-4" font-size="6">2</tspan></text></g>
<g font-size="7.5"><text x="404.7" y="931">0</text><text x="487" y="931">10<tspan dx="1" dy="-4" font-size="6">3</tspan></text><text x="542.5" y="931">10<tspan dx="1" dy="-4" font-size="6">4</tspan></text><text x="596" y="931">10<tspan dx="1" dy="-4" font-size="6">5</tspan></text></g>
<rect x="383.6" y="692.8" width="129.1" height="86.3" class="g"/>
<rect x="503.4" y="788.3" width="114" height="119.9" class="g"/>
<use href="#blob" transform="translate(405.8,735.7) scale(1,0.915)"/>
<use href="#blob" transform="translate(555.1,878.5) scale(1.09,0.94)"/>
<g fill="#111">
<circle cx="399" cy="718" r="0.5"/><circle cx="401" cy="716" r="0.5"/><circle cx="404" cy="717" r="0.5"/><circle cx="407" cy="716" r="0.5"/><circle cx="402" cy="719" r="0.5"/><circle cx="427" cy="732" r="0.5"/><circle cx="430" cy="735" r="0.5"/><circle cx="433" cy="731" r="0.5"/><circle cx="436" cy="736" r="0.5"/><circle cx="439" cy="733" r="0.5"/><circle cx="429" cy="738" r="0.5"/><circle cx="441" cy="738" r="0.5"/><circle cx="444" cy="735" r="0.5"/><circle cx="447" cy="731" r="0.5"/><circle cx="450" cy="736" r="0.5"/><circle cx="455" cy="733" r="0.5"/><circle cx="460" cy="734" r="0.5"/><circle cx="434" cy="740" r="0.5"/><circle cx="437" cy="728" r="0.5"/><circle cx="402" cy="755" r="0.5"/><circle cx="404" cy="761" r="0.5"/>
<circle cx="544" cy="832" r="0.5"/><circle cx="547" cy="835" r="0.5"/><circle cx="549" cy="838" r="0.5"/><circle cx="552" cy="834" r="0.5"/><circle cx="545" cy="842" r="0.5"/><circle cx="548" cy="848" r="0.5"/><circle cx="553" cy="851" r="0.5"/><circle cx="557" cy="852" r="0.5"/><circle cx="561" cy="854" r="0.5"/><circle cx="564" cy="857" r="0.5"/><circle cx="548" cy="856" r="0.5"/><circle cx="525" cy="879" r="0.5"/><circle cx="413" cy="861" r="0.5"/><circle cx="411" cy="868" r="0.5"/><circle cx="405" cy="875" r="0.5"/><circle cx="403" cy="884" r="0.5"/>
</g>
<g font-size="15" font-weight="bold" text-anchor="middle"><text x="469.1" y="713.6">42.4%</text><text x="472.7" y="731.9">+/- 0.19</text><text x="552.4" y="813.7">57.5%</text><text x="555.9" y="831.3">+/- 0.15</text></g>

<rect x="695.4" y="669.5" width="240.1" height="239.8" fill="none" stroke="#111" stroke-width="1.1"/>
<use href="#ydec" x="695.4" y="860.2"/><use href="#ydec" x="695.4" y="803.8"/><use href="#ydec" x="695.4" y="747.2"/>
<path d="M692.9,692.3h2.5M693.4,680h2M693.4,872h2M692.9,880.8h2.5M693.4,892h2M692.9,903.6h2.5" stroke="#222" stroke-width="0.5"/>
<use href="#xdec" x="802.3" y="909.3"/><use href="#xdec" x="856.6" y="909.3"/>
<path d="M911.4,909.3v2.5M743.9,909.3v2.5M699,909.3v1.5M703,909.3v1.5M707,909.3v1.5M711,909.3v1.5M715,909.3v2M717,909.3v3M719,909.3v3M721,909.3v2M724,909.3v1.5M728,909.3v1.5M732,909.3v1.5M736,909.3v1.5M740,909.3v1.5M760,909.3v1.5M772,909.3v1.5M782,909.3v1.5M790,909.3v1.5M796,909.3v1.5M920,909.3v1.5M926,909.3v1.5" stroke="#222" stroke-width="0.5"/>
<path d="M690,877h5.4M691,879h4.4M689.5,881h5.9M691,883h4.4" stroke="#777" stroke-width="0.5"/>
<g font-size="7.5"><text x="667.3" y="695.8">10<tspan dx="1" dy="-4" font-size="6">5</tspan></text><text x="667.3" y="750.7">10<tspan dx="1" dy="-4" font-size="6">4</tspan></text><text x="667.3" y="807.3">10<tspan dx="1" dy="-4" font-size="6">3</tspan></text><text x="667.3" y="863.7">10<tspan dx="1" dy="-4" font-size="6">2</tspan></text><text x="672" y="884.3">0</text><text x="664" y="907.1">-10<tspan dx="1" dy="-4" font-size="6">2</tspan></text></g>
<g font-size="7.5"><text x="718.8" y="931">0</text><text x="799" y="931">10<tspan dx="1" dy="-4" font-size="6">3</tspan></text><text x="854.5" y="931">10<tspan dx="1" dy="-4" font-size="6">4</tspan></text><text x="909" y="931">10<tspan dx="1" dy="-4" font-size="6">5</tspan></text></g>
<rect x="698.5" y="692.3" width="129.2" height="86.2" class="g"/>
<rect x="817.9" y="787.8" width="114.5" height="119.9" class="g"/>
<use href="#blob" transform="translate(717.2,735.3) scale(0.915,1)"/>
<use href="#blob" transform="translate(866.9,879.2) scale(1.19,0.97)"/>
<g fill="#111">
<circle cx="714" cy="758" r="0.5"/><circle cx="718" cy="762" r="0.5"/><circle cx="710" cy="871" r="0.5"/><circle cx="712" cy="875" r="0.5"/><circle cx="715" cy="869" r="0.5"/><circle cx="717" cy="878" r="0.5"/><circle cx="713" cy="882" r="0.5"/><circle cx="720" cy="874" r="0.5"/><circle cx="722" cy="880" r="0.5"/><circle cx="716" cy="886" r="0.5"/><circle cx="725" cy="877" r="0.5"/><circle cx="711" cy="879" r="0.5"/><circle cx="838" cy="880" r="0.5"/>
</g>
<g font-size="15" font-weight="bold" text-anchor="middle"><text x="781.8" y="712.5">38.3%</text><text x="785.4" y="729.6">+/- 0.48</text><text x="873.5" y="810.3">60.3%</text><text x="876.7" y="827.8">+/- 0.72</text></g>

<!-- ================= PANEL e ================= -->
<text x="7" y="1016" font-size="36">e</text>
<path class="ax" d="M69.7,1052.4V1193.3M65.5,1193.3H282.1M65.5,1052.4H69.7M65.5,1087.6H69.7M65.5,1122.9H69.7M65.5,1158.1H69.7"/>
<g font-size="11.5" text-anchor="end"><text x="63.5" y="1056.6">2000</text><text x="63.5" y="1091.8">1500</text><text x="63.5" y="1127.1">1000</text><text x="63.5" y="1162.3">500</text></g>
<text transform="translate(24.5,1105.3) rotate(-90)" font-size="12" text-anchor="middle">CD5 MFI</text>
<g fill="#fff" stroke="#111" stroke-width="1">
<rect x="80.5" y="1076.5" width="21.6" height="116.8"/>
<rect x="107.5" y="1130.8" width="21.5" height="62.5"/>
<rect x="151.5" y="1073.8" width="21.8" height="119.5"/>
<rect x="178.7" y="1134.6" width="21.6" height="58.7"/>
<rect x="222.4" y="1111.7" width="21.8" height="81.6"/>
<rect x="249.8" y="1149.6" width="21.3" height="43.7"/>
</g>
<g class="f">
<circle cx="83.2" cy="1064.3" r="2.5"/><circle cx="99.6" cy="1065.1" r="2.5"/><circle cx="88.6" cy="1070.9" r="2.5"/><circle cx="94" cy="1071.3" r="2.5"/><circle cx="79.9" cy="1079.3" r="2.5"/><circle cx="84.7" cy="1079.9" r="2.5"/><circle cx="89.5" cy="1080.3" r="2.5"/><circle cx="94.4" cy="1079.9" r="2.5"/><circle cx="99.2" cy="1080.3" r="2.5"/><circle cx="87.6" cy="1083.2" r="2.5"/><circle cx="92.4" cy="1085.1" r="2.5"/>
<circle cx="162.3" cy="1060.1" r="2.5"/><circle cx="155" cy="1077.4" r="2.5"/><circle cx="162.3" cy="1077.8" r="2.5"/><circle cx="168.9" cy="1077.4" r="2.5"/>
<circle cx="225.3" cy="1102.5" r="2.5"/><circle cx="231.1" cy="1104" r="2.5"/><circle cx="240.7" cy="1104" r="2.5"/><circle cx="235.9" cy="1106.9" r="2.5"/><circle cx="227.2" cy="1109.2" r="2.5"/><circle cx="232" cy="1112.1" r="2.5"/><circle cx="237.8" cy="1110.2" r="2.5"/><circle cx="226.3" cy="1116.9" r="2.5"/><circle cx="233" cy="1118.4" r="2.5"/><circle cx="238.8" cy="1116.9" r="2.5"/><circle cx="230.1" cy="1115" r="2.5"/>
</g>
<g class="o">
<circle cx="110.7" cy="1120.2" r="2.5"/><circle cx="115.2" cy="1121.7" r="2.5"/><circle cx="122.7" cy="1120.2" r="2.5"/><circle cx="126.5" cy="1129" r="2.5"/><circle cx="117.9" cy="1133.3" r="2.5"/><circle cx="113.6" cy="1137.1" r="2.5"/><circle cx="121.7" cy="1137.1" r="2.5"/><circle cx="116.5" cy="1140" r="2.5"/><circle cx="123.2" cy="1132.3" r="2.5"/><circle cx="112.7" cy="1134.2" r="2.5"/>
<circle cx="189.7" cy="1123.6" r="2.5"/><circle cx="185.2" cy="1131.3" r="2.5"/><circle cx="193.5" cy="1131.3" r="2.5"/><circle cx="189.7" cy="1148.7" r="2.5"/>
<circle cx="252.3" cy="1143.3" r="2.5"/><circle cx="257.1" cy="1146.7" r="2.5"/><circle cx="262.3" cy="1146.2" r="2.5"/><circle cx="267.7" cy="1145.2" r="2.5"/><circle cx="253.8" cy="1148.7" r="2.5"/><circle cx="259" cy="1151.6" r="2.5"/><circle cx="264.2" cy="1151" r="2.5"/><circle cx="269.2" cy="1149.6" r="2.5"/><circle cx="256.1" cy="1152.5" r="2.5"/><circle cx="261.9" cy="1153.5" r="2.5"/>
</g>
<path class="th" d="M87.6,1073H96.3M91.3,1073V1080M112.5,1128.5H124M118.3,1128.5V1133M158.5,1068.8H166.6M162.4,1068.8V1073.8M185.8,1129.4H193.5M189.6,1129.4V1139.6M185.8,1139.6H193.5M228.5,1109.2H238.5M233.3,1109.2V1114M255.5,1147.5H266M260.5,1147.5V1152"/>
<path class="th" d="M91.5,1061V1028.9H232.6V1084.2M163.3,1028.9V1040.8M91.5,1050.1H119V1113M162.3,1056.2V1050.5H190.1V1113M233.6,1097.6V1088H261.1V1137.1"/>
<g text-anchor="middle"><text x="132.9" y="1026" font-size="7.5">NS</text>
<text x="198.9" y="1029" font-size="9">****</text><text x="106.5" y="1050.6" font-size="9">****</text><text x="176.8" y="1050.1" font-size="9">****</text><text x="245.9" y="1088.6" font-size="9">****</text></g>
<circle class="f" cx="265.4" cy="1031.8" r="5.5"/><text x="282.1" y="1038.6" font-size="14">WT</text>
<circle class="o" cx="265.4" cy="1052.4" r="5.5"/><text x="280.2" y="1057.6" font-size="14">cKO</text>
<g font-size="11.5" text-anchor="end">
<text transform="translate(109,1205) rotate(-55)">Ex vivo</text>
<text transform="translate(174,1203) rotate(-55)">+IL-7</text>
<text transform="translate(183.5,1210) rotate(-55)">in vitro</text>
<text transform="translate(251,1205) rotate(-55)">β<tspan font-size="7.5" dy="2.5">2</tspan><tspan dy="-2.5">m KO parking</tspan></text>
</g>

<!-- ================= PANEL f ================= -->
<text x="4" y="1309" font-size="36">f</text>
<path class="ax" d="M82.4,1342.7V1475.4M78,1475.4H281.5M78,1342.7H82.4M78,1369.3H82.4M78,1395.9H82.4M78,1422.3H82.4M78,1448.8H82.4M97.2,1475.4v4.4M130.9,1475.4v4.4M164.6,1475.4v4.4M198.3,1475.4v4.4M232,1475.4v4.4M265.7,1475.4v4.4"/>
<g font-size="12.5" text-anchor="end"><text x="76" y="1347.2">100</text><text x="76" y="1373.8">80</text><text x="76" y="1400.4">60</text><text x="76" y="1426.8">40</text><text x="76" y="1453.3">20</text><text x="76" y="1479.9">0</text></g>
<text transform="translate(47,1405.7) rotate(-90)" font-size="12.5" text-anchor="middle">% CD69+</text>
<g font-size="8" text-anchor="middle"><text x="98.2" y="1347.7">NS</text><text x="132.3" y="1368.8">NS</text><text x="164.6" y="1388.5">NS</text><text x="198" y="1404.8">NS</text><text x="233" y="1426">NS</text><text x="265.4" y="1437.6">NS</text></g>
<path class="th" d="M91.5,1352.5H104.4M125.6,1373.9H139M158,1393.2H171.2M191.4,1409.2H204.6M226.4,1430.7H239.6M258.8,1442.3H272"/>
<g class="f">
<circle cx="91.1" cy="1360.1" r="2.9"/><circle cx="91.5" cy="1369.1" r="2.9"/><circle cx="90.5" cy="1372.4" r="2.9"/><circle cx="89.7" cy="1376.8" r="2.9"/><circle cx="93.4" cy="1379.7" r="2.9"/><circle cx="86.3" cy="1383.2" r="2.9"/><circle cx="95.9" cy="1385.9" r="2.9"/><circle cx="89.5" cy="1390.3" r="2.9"/><circle cx="92.8" cy="1374.9" r="2.9"/><circle cx="88.6" cy="1381.6" r="2.9"/>
<circle cx="122.1" cy="1388.8" r="2.9"/><circle cx="119.4" cy="1395.7" r="2.9"/><circle cx="129.4" cy="1394.1" r="2.9"/><circle cx="124.8" cy="1398" r="2.9"/><circle cx="118.8" cy="1405.7" r="2.9"/><circle cx="123.6" cy="1408.8" r="2.9"/><circle cx="129.4" cy="1406.3" r="2.9"/><circle cx="126.1" cy="1401.8" r="2.9"/>
<circle cx="157.9" cy="1409.2" r="2.9"/><circle cx="157.9" cy="1412.4" r="2.9"/><circle cx="158.5" cy="1416.3" r="2.9"/><circle cx="157.9" cy="1424" r="2.9"/><circle cx="158.9" cy="1425.5" r="2.9"/><circle cx="158.3" cy="1429.2" r="2.9"/><circle cx="156.4" cy="1442.3" r="2.9"/><circle cx="163.5" cy="1440.4" r="2.9"/>
<circle cx="186.8" cy="1430.3" r="2.9"/><circle cx="192" cy="1423.6" r="2.9"/><circle cx="194.1" cy="1437.5" r="2.9"/><circle cx="186.8" cy="1443.2" r="2.9"/><circle cx="190.6" cy="1449" r="2.9"/><circle cx="197" cy="1444.2" r="2.9"/><circle cx="194.5" cy="1440.3" r="2.9"/>
<circle cx="223.4" cy="1447.1" r="2.9"/><circle cx="225.7" cy="1454.8" r="2.9"/><circle cx="225.9" cy="1457.7" r="2.9"/><circle cx="225.3" cy="1464.4" r="2.9"/><circle cx="225.7" cy="1472.1" r="2.9"/><circle cx="230.7" cy="1440.7" r="2.9"/>
<circle cx="254.2" cy="1462.5" r="2.9"/><circle cx="257.1" cy="1460.2" r="2.9"/><circle cx="264.2" cy="1460.6" r="2.9"/><circle cx="254.2" cy="1470.2" r="2.9"/><circle cx="258.4" cy="1475.4" r="2.9"/><circle cx="260.9" cy="1464.4" r="2.9"/><circle cx="264.8" cy="1471.2" r="2.9"/><circle cx="261.9" cy="1467.3" r="2.9"/>
</g>
<g class="o">
<circle cx="103.6" cy="1370.1" r="2.9"/><circle cx="104" cy="1373" r="2.9"/><circle cx="104" cy="1382.6" r="2.9"/><circle cx="104.2" cy="1386.1" r="2.9"/><circle cx="104" cy="1388.4" r="2.9"/><circle cx="101.7" cy="1402.4" r="2.9"/><circle cx="108.8" cy="1396.6" r="2.9"/><circle cx="103.4" cy="1373.9" r="2.9"/><circle cx="104.9" cy="1385.5" r="2.9"/>
<circle cx="137.1" cy="1383.2" r="2.9"/><circle cx="137.1" cy="1385.9" r="2.9"/><circle cx="137.1" cy="1390.3" r="2.9"/><circle cx="137.1" cy="1401.8" r="2.9"/><circle cx="137.1" cy="1404.2" r="2.9"/><circle cx="137.1" cy="1407" r="2.9"/><circle cx="142.5" cy="1414.4" r="2.9"/><circle cx="135.4" cy="1418.2" r="2.9"/>
<circle cx="169.1" cy="1404.3" r="2.9"/><circle cx="175.8" cy="1401.8" r="2.9"/><circle cx="172" cy="1412.4" r="2.9"/><circle cx="171.4" cy="1415.9" r="2.9"/><circle cx="171" cy="1417.3" r="2.9"/><circle cx="170.8" cy="1427.8" r="2.9"/><circle cx="171.4" cy="1429.4" r="2.9"/><circle cx="171" cy="1435.9" r="2.9"/>
<circle cx="205.1" cy="1418.8" r="2.9"/><circle cx="205.1" cy="1432.3" r="2.9"/><circle cx="200.8" cy="1438.4" r="2.9"/><circle cx="207.6" cy="1437.5" r="2.9"/><circle cx="210.3" cy="1439.4" r="2.9"/><circle cx="205.5" cy="1444.2" r="2.9"/><circle cx="203.7" cy="1447.7" r="2.9"/><circle cx="203.2" cy="1441.3" r="2.9"/>
<circle cx="235.9" cy="1444.2" r="2.9"/><circle cx="243.6" cy="1438.8" r="2.9"/><circle cx="243.8" cy="1446.5" r="2.9"/><circle cx="238.8" cy="1449" r="2.9"/><circle cx="239.7" cy="1454.8" r="2.9"/><circle cx="243.6" cy="1466.4" r="2.9"/><circle cx="236.5" cy="1470.6" r="2.9"/>
<circle cx="272.9" cy="1450" r="2.9"/><circle cx="271.5" cy="1453.8" r="2.9"/><circle cx="272.5" cy="1455.8" r="2.9"/><circle cx="272.1" cy="1458.7" r="2.9"/><circle cx="271.1" cy="1466.9" r="2.9"/><circle cx="272.5" cy="1472.1" r="2.9"/><circle cx="271.9" cy="1475.4" r="2.9"/><circle cx="269.6" cy="1455.4" r="2.9"/>
</g>
<g font-size="11.5" text-anchor="end">
<text transform="translate(101.7,1488.5) rotate(-57)">1000 ng/ml OVA</text>
<text transform="translate(135.4,1488.5) rotate(-57)">100 ng/ml OVA</text>
<text transform="translate(169.1,1488.5) rotate(-57)">10 ng/ml OVA</text>
<text transform="translate(202.8,1488.5) rotate(-57)">1 ng/ml OVA</text>
<text transform="translate(236.5,1488.5) rotate(-57)">0.1 ng/ml OVA</text>
<text transform="translate(270.2,1488.5) rotate(-57)">0.01 ng/ml OVA</text>
</g>

<path class="ax" d="M354.3,1339.6V1472.5M350.5,1472.5H520.9M350.5,1339.6H354.3M350.5,1366.6H354.3M350.5,1393.4H354.3M350.5,1419.8H354.3M350.5,1446.1H354.3M369.7,1472.5v4.4M403,1472.5v4.4M436.9,1472.5v4.4M470.7,1472.5v4.4M504.6,1472.5v4.4"/>
<g font-size="12.5" text-anchor="end"><text x="348" y="1344.1">100</text><text x="348" y="1371.1">80</text><text x="348" y="1397.9">60</text><text x="348" y="1424.3">40</text><text x="348" y="1450.6">20</text><text x="348" y="1477">0</text></g>
<text transform="translate(321,1405.7) rotate(-90)" font-size="12.5" text-anchor="middle">% CD69+</text>
<g font-size="8" text-anchor="middle"><text x="370.2" y="1373.6">NS</text><text x="405" y="1409.7">NS</text><text x="437.4" y="1392.9">NS</text><text x="472.8" y="1412.2">NS</text><text x="505.2" y="1424.1">NS</text></g>
<path class="th" d="M363.2,1378.2H376.4M398.4,1414H411.6M430.8,1397.4H444M466.2,1416.7H479.4M498.6,1428.8H511.8"/>
<g class="f">
<circle cx="362.9" cy="1388.4" r="3"/><circle cx="362.9" cy="1410.5" r="3"/><circle cx="357.9" cy="1429.8" r="3"/><circle cx="362.9" cy="1433.6" r="3"/><circle cx="368.2" cy="1425" r="3"/><circle cx="362.9" cy="1425" r="3"/><circle cx="359.3" cy="1423" r="3"/>
<circle cx="391.8" cy="1422.1" r="3"/><circle cx="399.1" cy="1422.1" r="3"/><circle cx="399.1" cy="1428.8" r="3"/><circle cx="390.3" cy="1432.7" r="3"/><circle cx="396.2" cy="1436.5" r="3"/><circle cx="403.6" cy="1434.6" r="3"/><circle cx="393.2" cy="1438.4" r="3"/><circle cx="397.7" cy="1440.4" r="3"/>
<circle cx="428.6" cy="1415.7" r="3"/><circle cx="436" cy="1407.2" r="3"/><circle cx="430.1" cy="1437.5" r="3"/><circle cx="430.1" cy="1440.4" r="3"/><circle cx="430.1" cy="1450" r="3"/><circle cx="430.1" cy="1455.4" r="3"/>
<circle cx="460.1" cy="1427.3" r="3"/><circle cx="466.9" cy="1430" r="3"/><circle cx="469.3" cy="1438.8" r="3"/><circle cx="461.9" cy="1442.3" r="3"/><circle cx="464" cy="1455.8" r="3"/><circle cx="464.9" cy="1461.5" r="3"/><circle cx="464.9" cy="1466.4" r="3"/><circle cx="461.9" cy="1451" r="3"/>
<circle cx="498.4" cy="1444.2" r="3"/><circle cx="498.4" cy="1451" r="3"/><circle cx="496.4" cy="1468.3" r="3"/><circle cx="498.4" cy="1473.1" r="3"/><circle cx="498.4" cy="1470.2" r="3"/>
</g>
<g class="o">
<circle cx="375.5" cy="1417.8" r="3"/><circle cx="375.5" cy="1425" r="3"/><circle cx="375.5" cy="1428.8" r="3"/><circle cx="371.1" cy="1434.6" r="3"/><circle cx="378.5" cy="1433" r="3"/><circle cx="374.7" cy="1441.3" r="3"/><circle cx="380.6" cy="1436.1" r="3"/>
<circle cx="408" cy="1425.9" r="3"/><circle cx="415.3" cy="1423" r="3"/><circle cx="405.9" cy="1434.6" r="3"/><circle cx="405" cy="1446.5" r="3"/><circle cx="413.9" cy="1440.4" r="3"/><circle cx="408.9" cy="1452.9" r="3"/><circle cx="415.3" cy="1451" r="3"/>
<circle cx="443.9" cy="1418.8" r="3"/><circle cx="443.9" cy="1424" r="3"/><circle cx="444.8" cy="1441.3" r="3"/><circle cx="443.9" cy="1447.1" r="3"/><circle cx="442.8" cy="1451.9" r="3"/><circle cx="443.9" cy="1459.2" r="3"/><circle cx="443.9" cy="1460.6" r="3"/>
<circle cx="477.2" cy="1423.4" r="3"/><circle cx="482" cy="1439.4" r="3"/><circle cx="475.2" cy="1439.4" r="3"/><circle cx="472.8" cy="1456.3" r="3"/><circle cx="477.2" cy="1461.5" r="3"/><circle cx="477.2" cy="1469.2" r="3"/><circle cx="477.2" cy="1464.4" r="3"/>
<circle cx="511.1" cy="1436.1" r="3"/><circle cx="505.2" cy="1458.7" r="3"/><circle cx="513.2" cy="1459.6" r="3"/><circle cx="509.7" cy="1464.4" r="3"/><circle cx="512" cy="1468.3" r="3"/><circle cx="509.7" cy="1471.2" r="3"/>
</g>
<path class="th" d="M358.9,1421.5h8M362.9,1415.3V1428.8M360.9,1415.3h4M372.4,1429.2h8M376.4,1425.9V1431.7M374.4,1425.9h4M392.2,1431.7h8M396.2,1427.8V1435.6M394.2,1427.8h4M406.9,1441.3h8M410.9,1437.4V1445.2M408.9,1437.4h4M426.1,1436.9h8M430.1,1430.3V1443.3M428.1,1430.3h4M440.8,1440h8M444.8,1434.2V1447.1M442.8,1434.2h4M460,1447.7h8M464,1442V1453M462,1442h4M473.2,1451.9h8M477.2,1446.1V1457.3M475.2,1446.1h4M494.4,1461.9h8M498.4,1457.7V1466.4M496.4,1457.7h4M506.5,1464.4h8M510.5,1460.6V1468.3M508.5,1460.6h4"/>
<g font-size="11.5" text-anchor="end">
<text transform="translate(374.2,1485.5) rotate(-57)">1000 ng/ml Q4R7</text>
<text transform="translate(407.5,1485.5) rotate(-57)">100 ng/ml Q4R7</text>
<text transform="translate(441.4,1485.5) rotate(-57)">10 ng/ml Q4R7</text>
<text transform="translate(475.2,1485.5) rotate(-57)">1 ng/ml Q4R7</text>
<text transform="translate(509.1,1485.5) rotate(-57)">0.1 ng/ml Q4R7</text>
</g>

<path class="ax" d="M592.2,1341.2V1473.7M587.8,1473.7H757.8M587.8,1341.2H592.2M587.8,1367.8H592.2M587.8,1394.1H592.2M587.8,1420.7H592.2M587.8,1447.1H592.2M607.8,1473.7v4.4M641.4,1473.7v4.4M675.3,1473.7v4.4M709.2,1473.7v4.4M743.1,1473.7v4.4"/>
<g font-size="12.5" text-anchor="end"><text x="585.5" y="1345.7">100</text><text x="585.5" y="1372.3">80</text><text x="585.5" y="1398.6">60</text><text x="585.5" y="1425.2">40</text><text x="585.5" y="1451.6">20</text><text x="585.5" y="1478.2">0</text></g>
<text transform="translate(559,1405.7) rotate(-90)" font-size="12.5" text-anchor="middle">% CD69+</text>
<circle class="f" cx="717.4" cy="1338.3" r="4.6"/><text x="733.7" y="1344.4" font-size="13.5">WT</text>
<circle class="o" cx="717.4" cy="1358.5" r="4.6"/><text x="733.7" y="1363.4" font-size="13.5">cKO</text>
<g font-size="8" text-anchor="middle"><text x="606.9" y="1406.8">NS</text><text x="642.3" y="1406.8">NS</text><text x="674.1" y="1429.9">NS</text><text x="709.5" y="1443">NS</text><text x="744" y="1456.5">NS</text></g>
<path class="th" d="M600.3,1412H613.5M635.7,1412H648.9M667.5,1435H680.7M702.9,1448H716.1M737.4,1461.9H750.6"/>
<g class="f">
<circle cx="600.1" cy="1460.6" r="3"/><circle cx="595.1" cy="1447.1" r="3"/><circle cx="599" cy="1428.4" r="3"/><circle cx="606" cy="1422.1" r="3"/><circle cx="602.5" cy="1447.7" r="3"/><circle cx="606" cy="1451.5" r="3"/><circle cx="593.6" cy="1446.5" r="3"/>
<circle cx="632.8" cy="1424" r="3"/><circle cx="634.3" cy="1434.6" r="3"/><circle cx="634.3" cy="1437.5" r="3"/><circle cx="634.3" cy="1448.4" r="3"/><circle cx="634.3" cy="1457.1" r="3"/><circle cx="640.8" cy="1424" r="3"/>
<circle cx="663.5" cy="1446.1" r="3"/><circle cx="662.9" cy="1453.5" r="3"/><circle cx="668.2" cy="1451.5" r="3"/><circle cx="674.1" cy="1447.1" r="3"/><circle cx="673.2" cy="1461.5" r="3"/><circle cx="667.3" cy="1464.4" r="3"/><circle cx="660.5" cy="1450" r="3"/>
<circle cx="702.1" cy="1462.1" r="3"/><circle cx="702.1" cy="1469.8" r="3"/><circle cx="702.1" cy="1474" r="3"/><circle cx="704.8" cy="1467.3" r="3"/>
<circle cx="735.7" cy="1471.2" r="3"/><circle cx="733" cy="1471.6" r="3"/>
</g>
<g class="o">
<circle cx="613.4" cy="1438.4" r="3"/><circle cx="613.4" cy="1441.3" r="3"/><circle cx="613.4" cy="1450" r="3"/><circle cx="616.3" cy="1454.2" r="3"/><circle cx="612.8" cy="1460.6" r="3"/><circle cx="619.3" cy="1457.7" r="3"/><circle cx="608.4" cy="1455.8" r="3"/>
<circle cx="643.2" cy="1425" r="3"/><circle cx="649.6" cy="1427.8" r="3"/><circle cx="647.6" cy="1436.9" r="3"/><circle cx="643.2" cy="1441.3" r="3"/><circle cx="649.6" cy="1448.1" r="3"/><circle cx="648.2" cy="1455.4" r="3"/><circle cx="648.2" cy="1461.5" r="3"/>
<circle cx="681.2" cy="1442.7" r="3"/><circle cx="683.5" cy="1456.7" r="3"/><circle cx="682.1" cy="1460.6" r="3"/><circle cx="681.2" cy="1464.4" r="3"/><circle cx="681.2" cy="1468.7" r="3"/><circle cx="683.5" cy="1462.5" r="3"/>
<circle cx="715.4" cy="1455.4" r="3"/><circle cx="715.4" cy="1460.6" r="3"/><circle cx="715.4" cy="1465.8" r="3"/><circle cx="715.4" cy="1470.2" r="3"/><circle cx="715.4" cy="1474" r="3"/><circle cx="713" cy="1472.1" r="3"/>
<circle cx="748.4" cy="1471.2" r="3"/><circle cx="749" cy="1472.1" r="3"/>
</g>
<path class="th" d="M597,1444.8h8M601,1440.3V1450.8M599,1440.3h4M609.4,1449.6h8M613.4,1447.1V1452.9M611.4,1447.1h4M630.3,1439.4h8M634.3,1434.6V1444.4M632.3,1434.6h4M644.2,1445.2h8M648.2,1440.3V1450M646.2,1440.3h4M663.2,1454.8h8M667.2,1450.3V1458.7M665.2,1450.3h4M678.5,1461.5h8M682.5,1458V1466M680.5,1458h4M698.2,1468.1h8M702.2,1465.5V1470.7M700.2,1465.5h4M711.4,1467h8M715.4,1464V1470M713.4,1464h4"/>
<g font-size="11.5" text-anchor="end">
<text transform="translate(612.3,1486.7) rotate(-57)">1000 ng/ml Q4H7</text>
<text transform="translate(645.9,1486.7) rotate(-57)">100 ng/ml Q4H7</text>
<text transform="translate(679.8,1486.7) rotate(-57)">10 ng/ml Q4H7</text>
<text transform="translate(713.7,1486.7) rotate(-57)">1 ng/ml Q4H7</text>
<text transform="translate(747.6,1486.7) rotate(-57)">No peptide</text>
</g>

<!-- ================= PANEL g ================= -->
<text x="794" y="1320" font-size="36">g</text>
<path class="ax" d="M845.4,1341.2V1473.7M841.5,1473.7H1044.7M841.5,1341.2H845.4M841.5,1374.3H845.4M841.5,1407.4H845.4M841.5,1440.5H845.4M860.4,1473.7v4.4M893.9,1473.7v4.4M927.6,1473.7v4.4M961.3,1473.7v4.4M995,1473.7v4.4M1028.3,1473.7v4.4"/>
<g font-size="12.5" text-anchor="end"><text x="839" y="1345.7">80</text><text x="839" y="1378.8">60</text><text x="839" y="1411.9">40</text><text x="839" y="1445">20</text><text x="839" y="1478.2">0</text></g>
<text transform="translate(818,1403.8) rotate(-90)" font-size="12.5" text-anchor="middle">% TNF +</text>
<circle class="f" cx="1000" cy="1347.5" r="5.3"/><text x="1016.7" y="1354.6" font-size="14">WT</text>
<circle class="o" cx="1000" cy="1367.2" r="5.3"/><text x="1015.2" y="1372.2" font-size="14">cKO</text>
<g font-size="8" text-anchor="middle"><text x="861.3" y="1356.3">NS</text><text x="895" y="1382.7">NS</text><text x="927.8" y="1404.5">NS</text><text x="962.4" y="1433.7">NS</text><text x="994.6" y="1444.9">NS</text><text x="1030.2" y="1457.8">NS</text></g>
<path class="th" d="M854.4,1360.8H867.1M888.4,1387.4H901.3M921.3,1409H934.2M955.9,1438.4H968.8M988.1,1449.4H1001M1023.7,1462.1H1036.6"/>
<g class="f">
<circle cx="854" cy="1371.4" r="2.9"/><circle cx="854.4" cy="1374.9" r="2.9"/><circle cx="854" cy="1378.2" r="2.9"/><circle cx="854.4" cy="1397" r="2.9"/><circle cx="856.5" cy="1403.4" r="2.9"/><circle cx="849.2" cy="1405.7" r="2.9"/><circle cx="859.8" cy="1405.7" r="2.9"/><circle cx="853.1" cy="1411.9" r="2.9"/>
<circle cx="885.8" cy="1399" r="2.9"/><circle cx="892.5" cy="1398" r="2.9"/><circle cx="882.7" cy="1406.3" r="2.9"/><circle cx="889.6" cy="1412.4" r="2.9"/><circle cx="882.5" cy="1416.3" r="2.9"/><circle cx="893.1" cy="1419.2" r="2.9"/><circle cx="886.4" cy="1423.6" r="2.9"/><circle cx="888" cy="1409" r="2.9"/>
<circle cx="915.6" cy="1429.8" r="2.9"/><circle cx="919.5" cy="1426.9" r="2.9"/><circle cx="923" cy="1429.8" r="2.9"/><circle cx="926.2" cy="1429.8" r="2.9"/><circle cx="921.4" cy="1434.6" r="2.9"/><circle cx="926.2" cy="1442.3" r="2.9"/><circle cx="919.1" cy="1447.7" r="2.9"/><circle cx="917.5" cy="1431.5" r="2.9"/>
<circle cx="949.9" cy="1445.2" r="2.9"/><circle cx="949.3" cy="1454.8" r="2.9"/><circle cx="954.2" cy="1456.1" r="2.9"/><circle cx="957.6" cy="1450" r="2.9"/><circle cx="954.2" cy="1460.6" r="2.9"/><circle cx="956.7" cy="1453.8" r="2.9"/><circle cx="952" cy="1452" r="2.9"/>
<circle cx="983" cy="1469.8" r="2.9"/><circle cx="988.2" cy="1473.1" r="2.9"/><circle cx="990.7" cy="1467.3" r="2.9"/><circle cx="994.6" cy="1469.2" r="2.9"/><circle cx="986.9" cy="1468.3" r="2.9"/><circle cx="985" cy="1468.9" r="2.9"/>
<circle cx="1022.1" cy="1472.7" r="2.9"/>
</g>
<g class="o">
<circle cx="866.5" cy="1382.6" r="2.9"/><circle cx="866.5" cy="1394.5" r="2.9"/><circle cx="863.7" cy="1401.3" r="2.9"/><circle cx="871.9" cy="1403.8" r="2.9"/><circle cx="867.9" cy="1409.6" r="2.9"/><circle cx="864.6" cy="1419.8" r="2.9"/><circle cx="871.9" cy="1417.8" r="2.9"/>
<circle cx="898.3" cy="1404.2" r="2.9"/><circle cx="905.6" cy="1396.6" r="2.9"/><circle cx="895.4" cy="1415.9" r="2.9"/><circle cx="903.1" cy="1417.3" r="2.9"/><circle cx="895" cy="1430.3" r="2.9"/><circle cx="899.3" cy="1436.1" r="2.9"/><circle cx="905.6" cy="1430.7" r="2.9"/><circle cx="902.2" cy="1425.9" r="2.9"/>
<circle cx="932" cy="1419.8" r="2.9"/><circle cx="939.3" cy="1418.8" r="2.9"/><circle cx="932" cy="1427.8" r="2.9"/><circle cx="939.7" cy="1428.2" r="2.9"/><circle cx="929.1" cy="1433.6" r="2.9"/><circle cx="934.9" cy="1436.5" r="2.9"/><circle cx="939.7" cy="1439" r="2.9"/><circle cx="932" cy="1447.1" r="2.9"/>
<circle cx="968" cy="1448.1" r="2.9"/><circle cx="964.4" cy="1452.9" r="2.9"/><circle cx="969.9" cy="1453.8" r="2.9"/><circle cx="973.8" cy="1457.1" r="2.9"/><circle cx="968" cy="1460.6" r="2.9"/><circle cx="968" cy="1473.7" r="2.9"/><circle cx="968.6" cy="1458.7" r="2.9"/>
<circle cx="1001" cy="1458.7" r="2.9"/><circle cx="1001" cy="1466" r="2.9"/><circle cx="1002.3" cy="1469.2" r="2.9"/><circle cx="1001" cy="1473.1" r="2.9"/><circle cx="999.4" cy="1470.2" r="2.9"/>
<circle cx="1034.1" cy="1473.7" r="2.9"/>
</g>
<path class="th" d="M850.4,1393.6h8M854.4,1388V1399M852.4,1388h4M863.9,1403.8h8M867.9,1399.8V1407.8M865.9,1399.8h4M882.4,1410.5h8M886.4,1405.5V1415.5M884.4,1405.5h4M897.2,1420.1h8M901.2,1415.5V1424.7M899.2,1415.5h4M918.4,1433.6h8M922.4,1430.7V1436.5M920.4,1430.7h4M929.9,1431.7h8M933.9,1428.3V1435.1M931.9,1428.3h4"/>
<g font-size="11.5" text-anchor="end">
<text transform="translate(865.4,1486) rotate(-57)">1000 ng/ml OVA</text>
<text transform="translate(898.9,1486) rotate(-57)">100 ng/ml OVA</text>
<text transform="translate(932.6,1486) rotate(-57)">10 ng/ml OVA</text>
<text transform="translate(966.3,1486) rotate(-57)">1 ng/ml OVA</text>
<text transform="translate(1000,1486) rotate(-57)">0.1 ng/ml OVA</text>
<text transform="translate(1033.3,1486) rotate(-57)">No peptide</text>
</g>
</svg>
</body></html>
